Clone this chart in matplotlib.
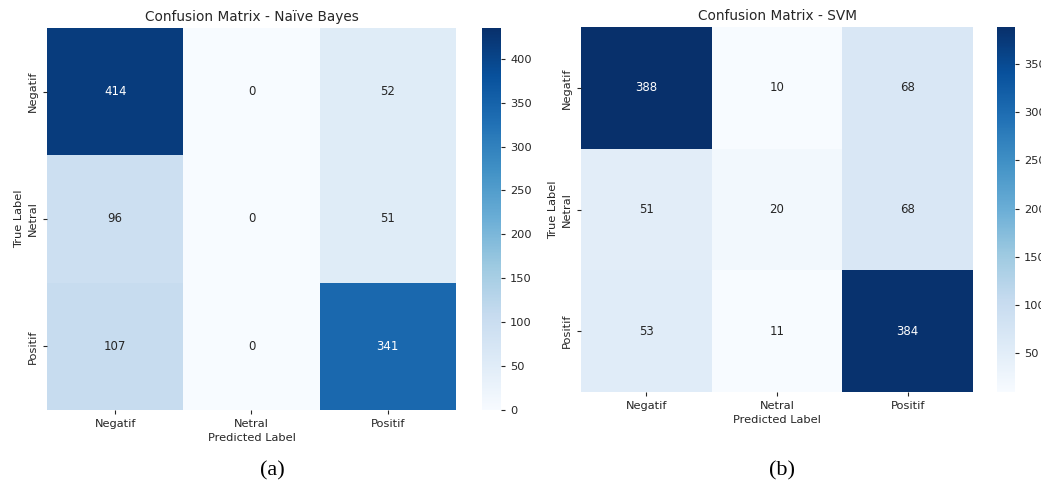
import matplotlib
matplotlib.use("Agg")
import matplotlib.pyplot as plt
import numpy as np
import seaborn as sns

classes = ["Negatif", "Netral", "Positif"]

nb_matrix = [
    [414, 0, 52],
    [96, 0, 51],
    [107, 0, 341],
]
svm_matrix = [
    [388, 10, 68],
    [51, 20, 68],
    [53, 11, 384],
]

nb_title = "Confusion Matrix - Naïve Bayes"
svm_title = "Confusion Matrix - SVM"
captions = ["(a)", "(b)"]

nb_cbar_ticks = [0, 50, 100, 150, 200, 250, 300, 350, 400]
svm_cbar_ticks = [50, 100, 150, 200, 250, 300, 350]

TEXT = "#262626"
plt.rcParams["font.family"] = ["DejaVu Sans"]
plt.rcParams["text.color"] = TEXT
plt.rcParams["axes.labelcolor"] = TEXT
plt.rcParams["xtick.color"] = TEXT
plt.rcParams["ytick.color"] = TEXT

W, H = 1041, 488
fig = plt.figure(figsize=(W / 100, H / 100), dpi=100)


def box(x0, y0, x1, y1):
    return [x0 / W, (H - y1) / H, (x1 - x0) / W, (y1 - y0) / H]


panels = [
    dict(data=nb_matrix, title=nb_title, ax=box(47, 28, 456, 410),
         cax=box(482, 28, 501, 410), vmin=0, vmax=435, ticks=nb_cbar_ticks,
         caption=captions[0], cap_xy=(272, 471)),
    dict(data=svm_matrix, title=svm_title, ax=box(581, 27, 973, 392),
         cax=box(997, 27, 1015, 392), vmin=None, vmax=None, ticks=svm_cbar_ticks,
         caption=captions[1], cap_xy=(782, 471)),
]

for p in panels:
    ax = fig.add_axes(p["ax"])
    cax = fig.add_axes(p["cax"])
    sns.heatmap(np.array(p["data"]), annot=True, fmt="d", cmap="Blues",
                vmin=p["vmin"], vmax=p["vmax"], ax=ax, cbar_ax=cax,
                xticklabels=classes, yticklabels=classes,
                annot_kws={"fontsize": 8.5})
    ax.set_title(p["title"], fontsize=9.8, pad=5)
    ax.set_xlabel("Predicted Label", fontsize=8.2, labelpad=3)
    ax.set_ylabel("True Label", fontsize=8.2, labelpad=3)
    ax.tick_params(axis="both", labelsize=8.2, length=3, width=0.8)
    plt.setp(ax.get_yticklabels(), rotation=90, va="center")
    plt.setp(ax.get_xticklabels(), rotation=0)
    cax.set_yticks(p["ticks"])
    cax.tick_params(labelsize=8.2, length=3, width=0.8)
    fig.text(p["cap_xy"][0] / W, 1 - p["cap_xy"][1] / H, p["caption"],
             fontsize=16, family="Liberation Serif", color="black",
             ha="center", va="center")

fig.savefig("out.png", dpi=100)
